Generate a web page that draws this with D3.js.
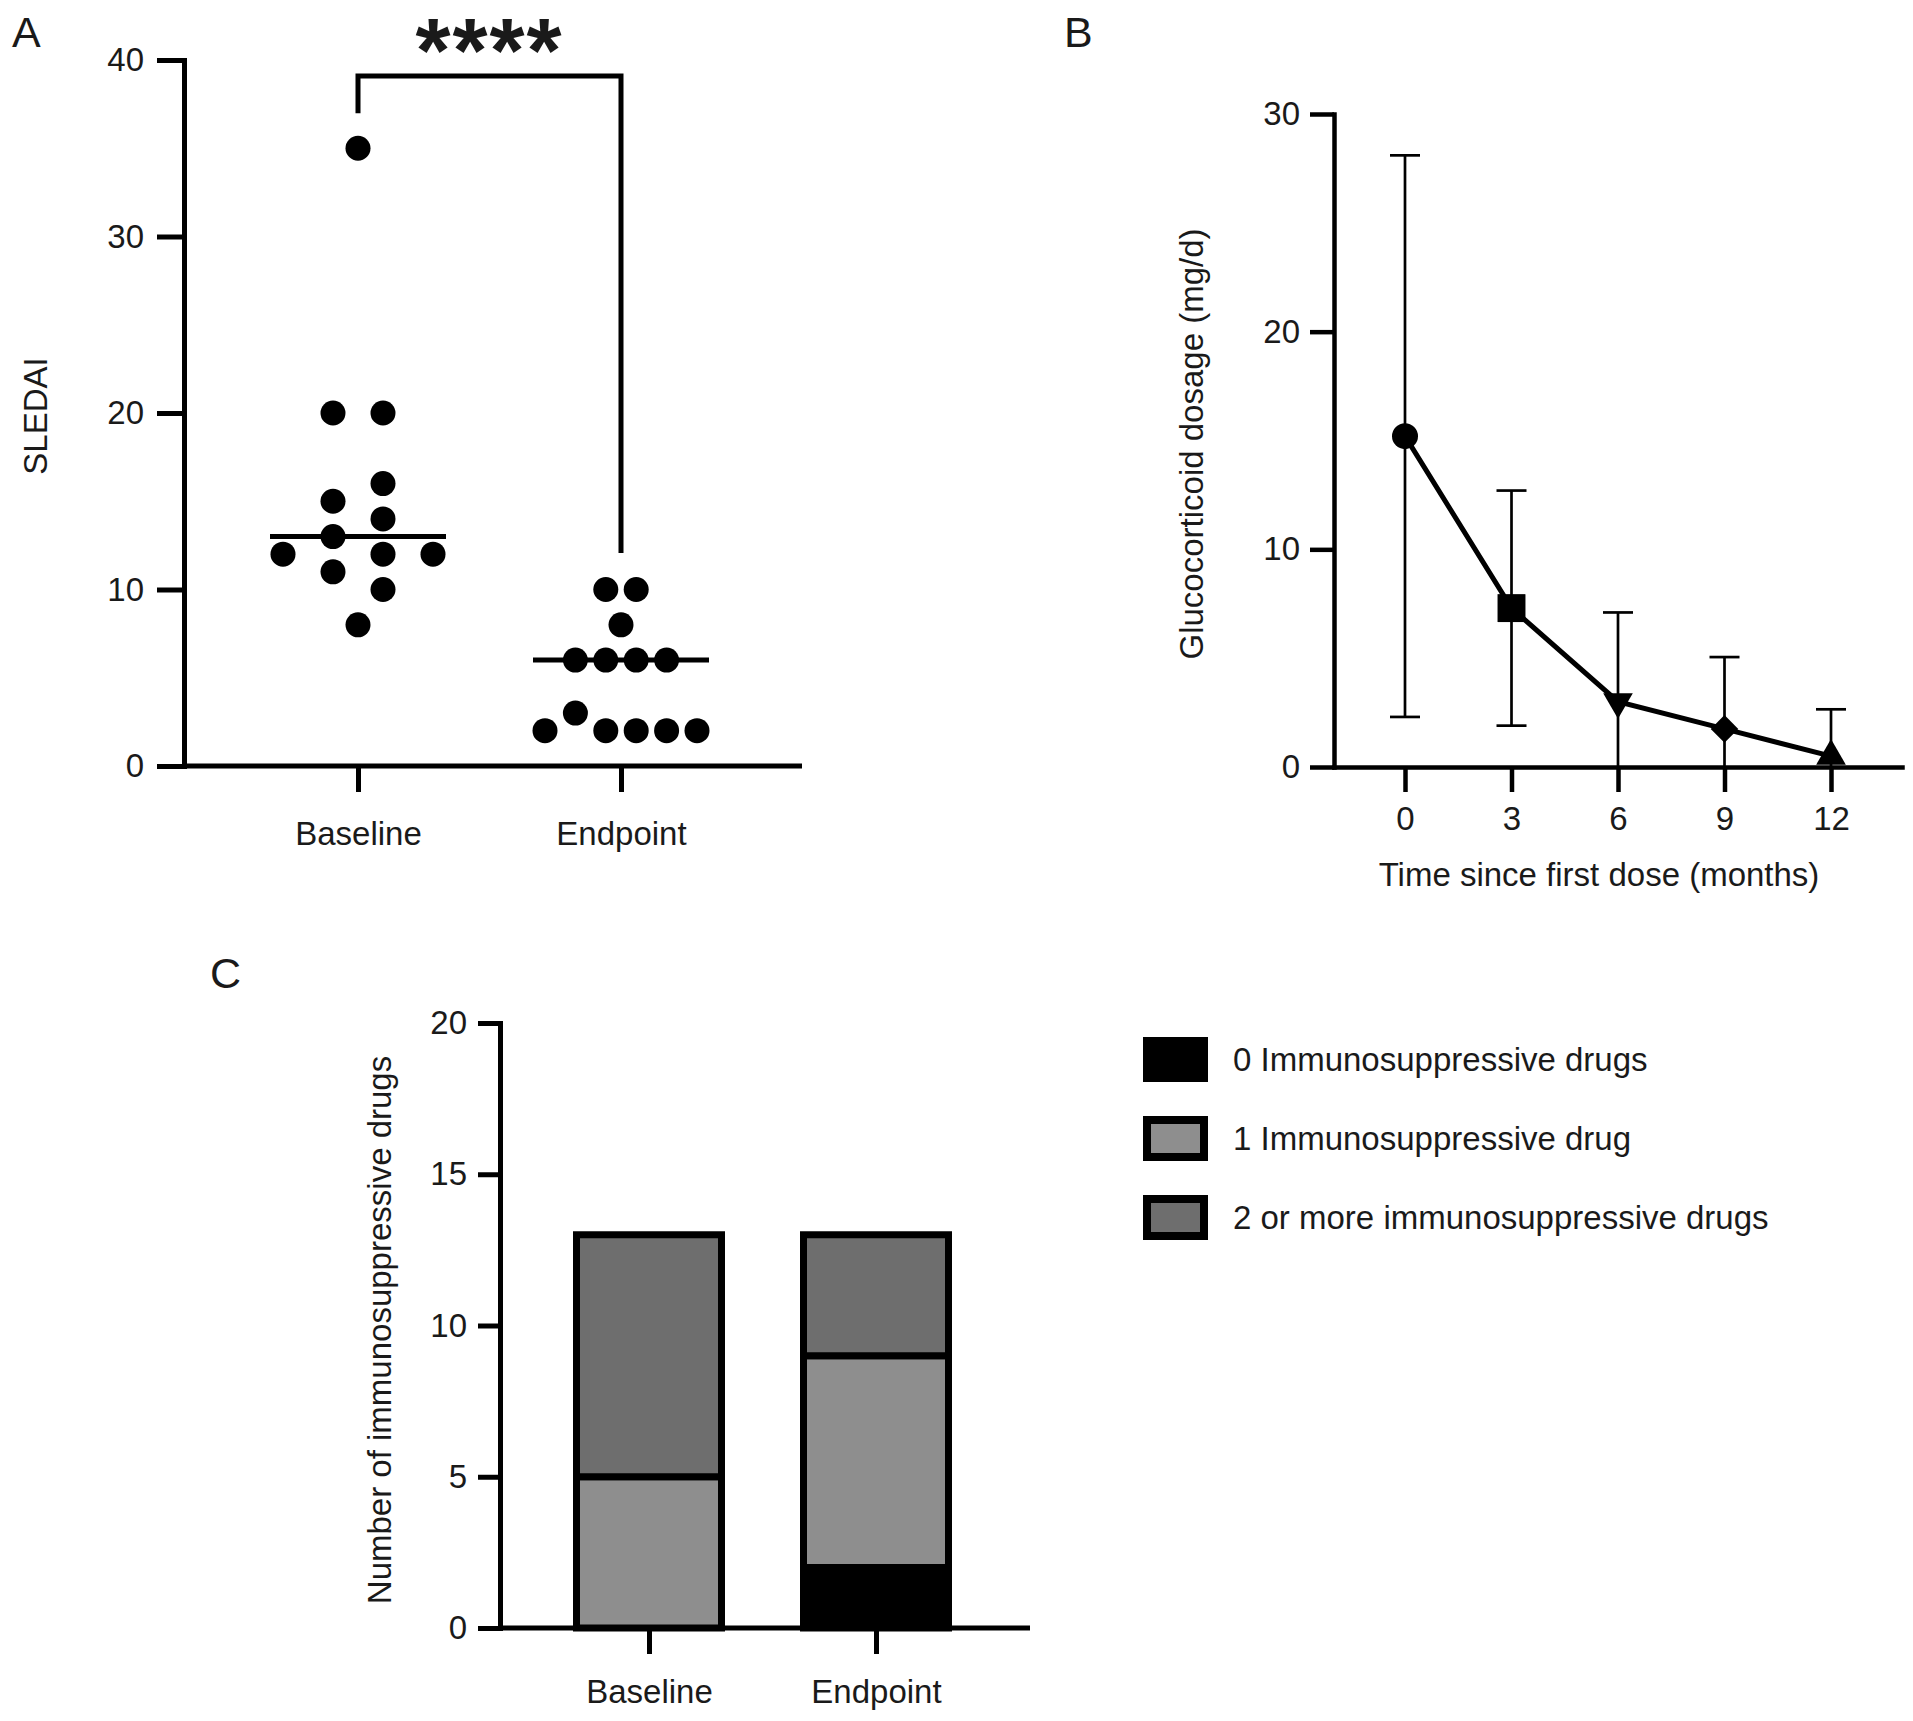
<!DOCTYPE html>
<html>
<head>
<meta charset="utf-8">
<script src="https://cdn.jsdelivr.net/npm/d3@7"></script>
<style>
  body { margin: 0; background: #fff; }
  svg { display: block; }
  text { font-family: "Liberation Sans", Arial, Helvetica, sans-serif; fill: #1a1a1a; }
</style>
</head>
<body>
<svg id="fig" width="1913" height="1721"></svg>
<script>
// ---- data ----
var groups = ["Baseline", "Endpoint"];

// panel A: SLEDAI per patient
var baselineSLEDAI = [35, 20, 20, 16, 15, 14, 13, 12, 12, 12, 11, 10, 8];
var endpointSLEDAI = [10, 10, 8, 6, 6, 6, 6, 3, 2, 2, 2, 2, 2];
// column slot of each dot in the scatter (GraphPad style spread)
var baselineColumn = [0, -1, 1, 1, -1, 1, -1, -3, 1, 3, -1, 1, 0];
var endpointColumn = [-1, 1, 0, -3, -1, 1, 3, -3, -5, -1, 1, 3, 5];
var sledaiTicks = [0, 10, 20, 30, 40];

// panel B: glucocorticoid dosage, mean and SD
var months = [0, 3, 6, 9, 12];
var doseMean = [15.2, 7.3, 3.0, 1.75, 0.5];
var doseSD = [12.9, 5.4, 4.1, 3.3, 2.15];
var doseTicks = [0, 10, 20, 30];
var markerShapes = ["circle", "square", "triangleDown", "diamond", "triangleUp"];

// panel C: number of patients by immunosuppressive drugs
var drugSeries = ["0 Immunosuppressive drugs", "1 Immunosuppressive drug", "2 or more immunosuppressive drugs"];
var zeroDrugs = [0, 2];
var oneDrug = [5, 7];
var twoPlusDrugs = [8, 4];
var drugColors = ["#000000", "#8e8e8e", "#6e6e6e"];
var drugTicks = [0, 5, 10, 15, 20];

var svg = d3.select("#fig");
svg.append("rect").attr("width", 1913).attr("height", 1721).attr("fill", "#fff");

var FS = 33;

function styleAxis(g, w) {
  g.selectAll("path.domain").attr("stroke", "#000").attr("stroke-width", w).attr("stroke-linecap", "square");
  g.selectAll(".tick line").attr("stroke", "#000").attr("stroke-width", w);
  g.selectAll(".tick text").style("font-size", FS + "px").attr("fill", "#1a1a1a");
}

function panelLabel(t, x, y) {
  svg.append("text").attr("x", x).attr("y", y).style("font-size", "43px").text(t);
}

// ================= Panel A =================
panelLabel("A", 12, 47);

var yA = d3.scaleLinear().domain([0, 40]).range([766, 60]);
var xA = d3.scalePoint().domain(groups).range([358, 621]);

var gA = svg.append("g");

gA.append("g").attr("transform", "translate(184,0)")
  .call(d3.axisLeft(yA).tickValues(sledaiTicks).tickSize(27).tickSizeOuter(0).tickPadding(13))
  .call(styleAxis, 5);

var xAxisA = gA.append("g").attr("transform", "translate(0,766)");
xAxisA.append("line").attr("x1", 184).attr("x2", 802).attr("stroke", "#000").attr("stroke-width", 5);
xAxisA.call(d3.axisBottom(xA).tickSize(26).tickPadding(30))
  .call(styleAxis, 5);
xAxisA.select("path.domain").remove();

gA.append("text")
  .attr("transform", "translate(47,416) rotate(-90)")
  .attr("text-anchor", "middle")
  .style("font-size", FS + "px")
  .text("SLEDAI");

var scatter = [
  { group: "Baseline", values: baselineSLEDAI, cols: baselineColumn, step: 25 },
  { group: "Endpoint", values: endpointSLEDAI, cols: endpointColumn, step: 15.2 }
];

scatter.forEach(function (s) {
  var pts = s.values.map(function (v, i) { return { v: v, c: s.cols[i] }; });
  var med = d3.median(s.values);
  gA.append("line")
    .attr("x1", xA(s.group) - 88).attr("x2", xA(s.group) + 88)
    .attr("y1", yA(med)).attr("y2", yA(med))
    .attr("stroke", "#000").attr("stroke-width", 5);
  gA.selectAll(null).data(pts).enter().append("circle")
    .attr("cx", function (d) { return xA(s.group) + d.c * s.step; })
    .attr("cy", function (d) { return yA(d.v); })
    .attr("r", 12.5)
    .attr("fill", "#000");
});

// significance bracket
gA.append("path")
  .attr("d", "M" + xA("Baseline") + "," + (yA(d3.max(baselineSLEDAI)) - 35) +
    "V76H" + xA("Endpoint") + "V553")
  .attr("fill", "none").attr("stroke", "#000").attr("stroke-width", 5);

gA.append("text")
  .attr("x", (xA("Baseline") + xA("Endpoint")) / 2)
  .attr("y", 82)
  .attr("text-anchor", "middle")
  .style("font-size", "90px").style("font-weight", "bold").style("letter-spacing", "2px")
  .text("****");

// ================= Panel B =================
panelLabel("B", 1064, 47);

var yB = d3.scaleLinear().domain([0, 30]).range([767, 114]);
var xB = d3.scaleLinear().domain([-2, 14]).range([1334, 1902]);

var gB = svg.append("g");
gB.append("g").attr("transform", "translate(1334,0)")
  .call(d3.axisLeft(yB).tickValues(doseTicks).tickSize(24).tickSizeOuter(0).tickPadding(10))
  .call(styleAxis, 4.5);
gB.append("g").attr("transform", "translate(0,767)")
  .call(d3.axisBottom(xB).tickValues(months).tickSize(25).tickSizeOuter(0).tickPadding(15))
  .call(styleAxis, 4.5);

gB.append("text")
  .attr("x", 1599).attr("y", 886)
  .attr("text-anchor", "middle")
  .style("font-size", FS + "px")
  .text("Time since first dose (months)");

gB.append("text")
  .attr("transform", "translate(1203,444) rotate(-90)")
  .attr("text-anchor", "middle")
  .style("font-size", FS + "px")
  .text("Glucocorticoid dosage (mg/d)");

var dose = months.map(function (m, i) {
  return { m: m, mean: doseMean[i], sd: doseSD[i], shape: markerShapes[i] };
});

// error bars
var capW = 15;
dose.forEach(function (d) {
  var hi = d.mean + d.sd, lo = Math.max(0, d.mean - d.sd);
  var x = xB(d.m);
  gB.append("line").attr("x1", x).attr("x2", x).attr("y1", yB(lo)).attr("y2", yB(hi))
    .attr("stroke", "#000").attr("stroke-width", 2.7);
  gB.append("line").attr("x1", x - capW).attr("x2", x + capW).attr("y1", yB(hi)).attr("y2", yB(hi))
    .attr("stroke", "#000").attr("stroke-width", 2.7);
  if (d.mean - d.sd > 0) {
    gB.append("line").attr("x1", x - capW).attr("x2", x + capW).attr("y1", yB(lo)).attr("y2", yB(lo))
      .attr("stroke", "#000").attr("stroke-width", 2.7);
  }
});

gB.append("path")
  .datum(dose)
  .attr("d", d3.line().x(function (d) { return xB(d.m); }).y(function (d) { return yB(d.mean); }))
  .attr("fill", "none").attr("stroke", "#000").attr("stroke-width", 5);

var symbolFor = {
  circle: { type: d3.symbolCircle, size: 530, rot: 0 },
  square: { type: d3.symbolSquare, size: 780, rot: 0 },
  triangleDown: { type: d3.symbolTriangle, size: 380, rot: 180 },
  diamond: { type: d3.symbolSquare, size: 380, rot: 45 },
  triangleUp: { type: d3.symbolTriangle, size: 380, rot: 0 }
};

gB.selectAll("path.marker").data(dose).enter().append("path")
  .attr("class", "marker")
  .attr("d", function (d) { var s = symbolFor[d.shape]; return d3.symbol().type(s.type).size(s.size)(); })
  .attr("transform", function (d) {
    return "translate(" + xB(d.m) + "," + yB(d.mean) + ") rotate(" + symbolFor[d.shape].rot + ")";
  })
  .attr("fill", "#000");

// ================= Panel C =================
panelLabel("C", 210, 988);

var yC = d3.scaleLinear().domain([0, 20]).range([1628, 1023]);
var xC = d3.scalePoint().domain(groups).range([649, 876]);

var gC = svg.append("g");

var table = groups.map(function (g, i) {
  var row = { group: g };
  row[drugSeries[0]] = zeroDrugs[i];
  row[drugSeries[1]] = oneDrug[i];
  row[drugSeries[2]] = twoPlusDrugs[i];
  return row;
});
var stacked = d3.stack().keys(drugSeries)(table);
var color = d3.scaleOrdinal().domain(drugSeries).range(drugColors);
var barW = 145;

stacked.forEach(function (layer) {
  gC.selectAll(null).data(layer.filter(function (d) { return d[1] - d[0] > 0; }))
    .enter().append("rect")
    .attr("x", function (d) { return xC(d.data.group) - barW / 2; })
    .attr("y", function (d) { return yC(d[1]); })
    .attr("width", barW)
    .attr("height", function (d) { return yC(d[0]) - yC(d[1]); })
    .attr("fill", color(layer.key))
    .attr("stroke", "#000").attr("stroke-width", 7);
});

gC.append("g").attr("transform", "translate(500,0)")
  .call(d3.axisLeft(yC).tickValues(drugTicks).tickSize(22).tickSizeOuter(0).tickPadding(11))
  .call(styleAxis, 5);

var xAxisC = gC.append("g").attr("transform", "translate(0,1628)");
xAxisC.append("line").attr("x1", 500).attr("x2", 1030).attr("stroke", "#000").attr("stroke-width", 5);
xAxisC.call(d3.axisBottom(xC).tickSize(26).tickPadding(26))
  .call(styleAxis, 5);
xAxisC.select("path.domain").remove();

gC.append("text")
  .attr("transform", "translate(391,1330) rotate(-90)")
  .attr("text-anchor", "middle")
  .style("font-size", FS + "px")
  .text("Number of immunosuppressive drugs");

// legend
var legend = gC.selectAll("g.legend").data(drugSeries).enter().append("g")
  .attr("class", "legend")
  .attr("transform", function (d, i) { return "translate(1147," + (1041 + i * 79) + ")"; });
legend.append("rect")
  .attr("width", 57).attr("height", 37)
  .attr("fill", function (d) { return color(d); })
  .attr("stroke", "#000").attr("stroke-width", 8);
legend.append("text")
  .attr("x", 86).attr("y", 30)
  .style("font-size", FS + "px")
  .text(function (d) { return d; });
</script>
</body>
</html>
